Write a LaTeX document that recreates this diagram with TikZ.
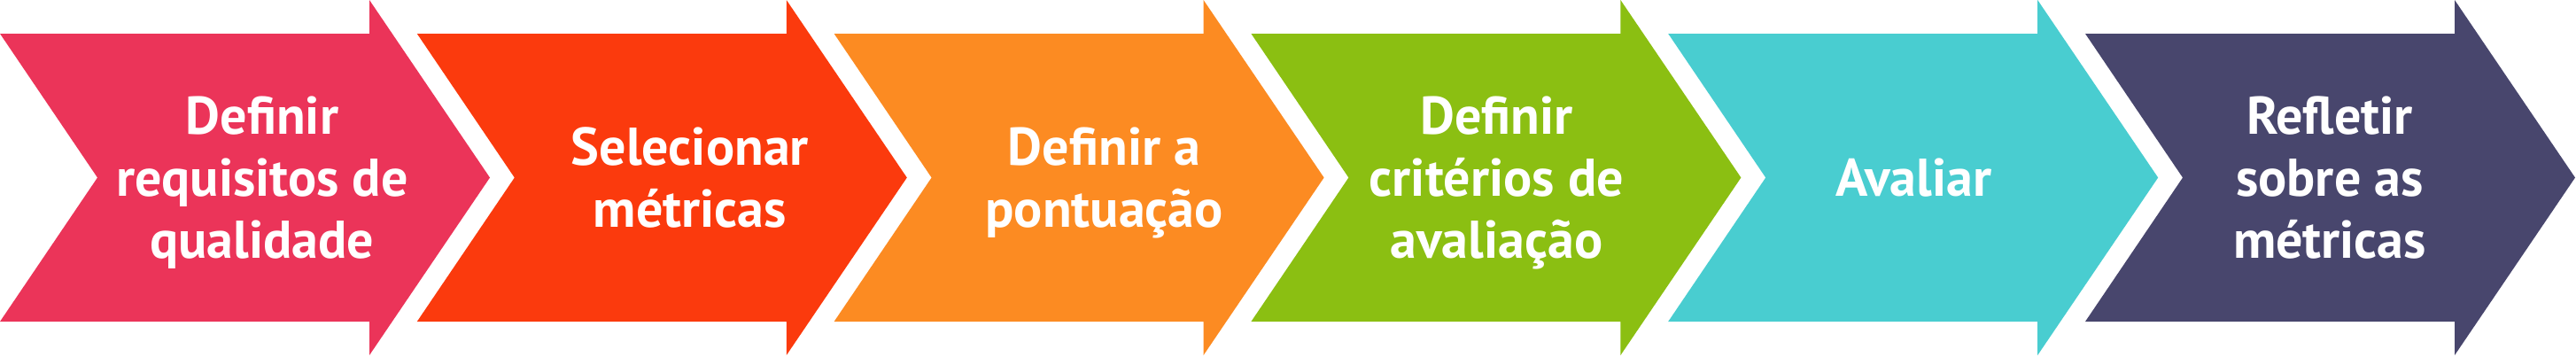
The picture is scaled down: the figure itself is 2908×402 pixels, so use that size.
\documentclass[tikz,border=0pt]{standalone}
\usepackage{fontspec}
\setmainfont{PT Sans}
\definecolor{cpink}{HTML}{EB3459}
\definecolor{cred}{HTML}{FB3A0D}
\definecolor{corange}{HTML}{FC8B22}
\definecolor{cgreen}{HTML}{8BBF12}
\definecolor{cteal}{HTML}{49CDD0}
\definecolor{cpurple}{HTML}{48466D}
\begin{document}
\begin{tikzpicture}[x=0.5pt,y=-0.5pt,
  chev/.style={fill=#1, draw=none},
  lbl/.style={text=white, font=\bfseries\fontsize{30}{35}\selectfont, align=center, anchor=base, inner sep=0pt}]
\useasboundingbox (0,0) rectangle (2908,402);
\foreach \i/\c/\dx/\by/\txt in {
  0/cpink/296/291/{Definir\\requisitos de\\qualidade},
  1/cred/308/256/{Selecionar\\métricas},
  2/corange/305/256/{Definir a\\pontuação},
  3/cgreen/277/291/{Definir\\critérios de\\avaliação},
  4/cteal/277/221/{Avaliar},
  5/cpurple/276/291/{Refletir\\sobre as\\métricas}}{
  \pgfmathsetmacro\L{470.8*\i}
  \fill[chev=\c] (\L,38) -- ++(417,0) -- ++(0,-38) -- ++(136,200.5) -- ++(-136,200.5)
     -- ++(0,-38) -- ++(-417,0) -- ++(110,-162.5) -- cycle;
  \node[lbl] (s\i) at (\L+\dx,\by) {\txt};
}
\end{tikzpicture}
\end{document}
